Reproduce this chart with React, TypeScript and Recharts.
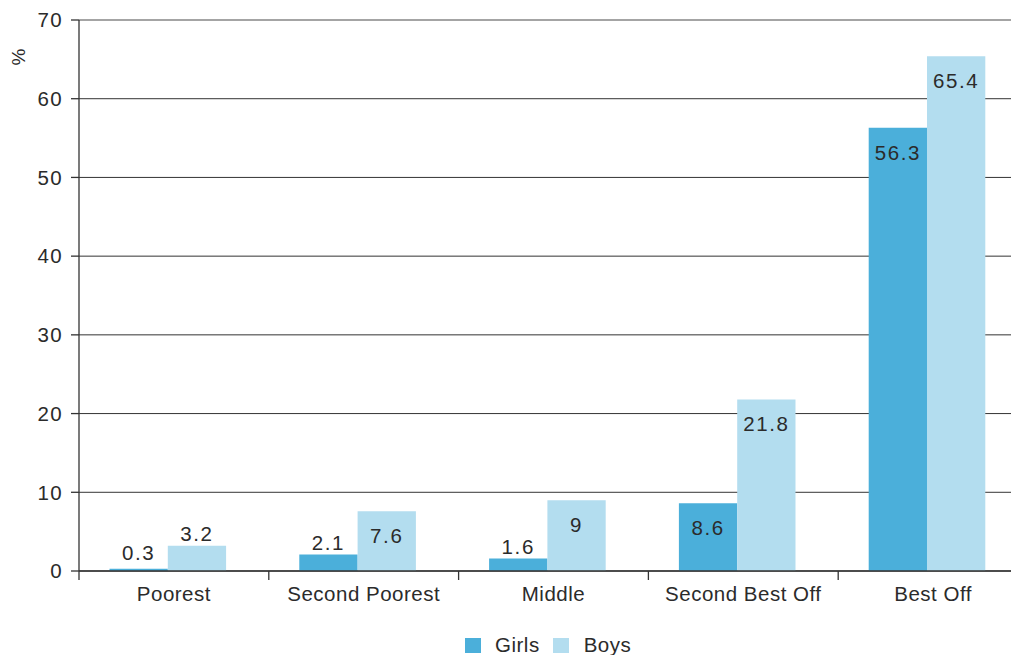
import React from "react";
import { BarChart, Bar, XAxis, YAxis, CartesianGrid, Legend, LabelList, ReferenceLine, Label } from "recharts";

const categories = ["Poorest", "Second Poorest", "Middle", "Second Best Off", "Best Off"];
const girls = [0.3, 2.1, 1.6, 8.6, 56.3];
const boys = [3.2, 7.6, 9, 21.8, 65.4];
const yTicks = [0, 10, 20, 30, 40, 50, 60, 70];

const data = categories.map((c, i) => ({ name: c, Girls: girls[i], Boys: boys[i] }));

const FONT = "'Liberation Sans', Arial, Helvetica, sans-serif";
const TEXT = "#2b2b2b";
const GIRLS_C = "#4BAFDA";
const BOYS_C = "#B3DDEF";
const SHIFT = 6.5;

const CatTick = (props: any) => {
  const { x, y, payload } = props;
  const half = payload && payload.offset ? payload.offset : 94.9;
  const bx = x + SHIFT - half;
  return (
    <g>
      <line x1={bx} x2={bx} y1={y} y2={y + 9} stroke="#333" strokeWidth={1.3} />
      <text x={x + SHIFT} y={y + 30} textAnchor="middle" fontSize={20.5} fill={TEXT} fontFamily={FONT} style={{ letterSpacing: "0.5px" }}>
        {payload.value}
      </text>
    </g>
  );
};

const renderValue = (props: any) => {
  const { x, y, width, height, value } = props;
  const inside = height > 40;
  const cy = inside ? y + 24.5 : Math.min(y - 12, 552);
  return (
    <text x={x + width / 2} y={cy} textAnchor="middle" dominantBaseline="central" fontSize={20.5} fill={TEXT} fontFamily={FONT} style={{ letterSpacing: "1.6px" }}>
      {value}
    </text>
  );
};

const LegendContent = () => (
  <div style={{ display: "flex", alignItems: "center", paddingLeft: 465, fontFamily: FONT, fontSize: 20.5, color: TEXT, letterSpacing: "0.5px", lineHeight: "22px" }}>
    <span style={{ width: 16, height: 15, background: GIRLS_C, display: "inline-block" }} />
    <span style={{ marginLeft: 14, marginRight: 13 }}>Girls</span>
    <span style={{ width: 16, height: 15, background: BOYS_C, display: "inline-block" }} />
    <span style={{ marginLeft: 15 }}>Boys</span>
  </div>
);

export default function App() {
  return (
    <div style={{ position: "absolute", left: 0, top: 0, width: 1011, height: 655, overflow: "hidden", background: "#fff" }}>
      <BarChart
        width={1040}
        height={680}
        data={data}
        margin={{ top: 20, right: 12, left: 0, bottom: 79 }}
        barGap={0}
        barSize={58.3}
      >
        <CartesianGrid vertical={false} stroke="#333" strokeWidth={1} />
        <ReferenceLine y={70} stroke="#a9a9a9" strokeWidth={1.5} />
        <XAxis
          dataKey="name"
          height={30}
          padding={{ left: -SHIFT, right: SHIFT }}
          tickSize={0}
          tickMargin={0}
          tickLine={false}
          axisLine={{ stroke: "#333", strokeWidth: 1.3 }}
          tick={<CatTick />}
          interval={0}
        />
        <YAxis
          width={79}
          domain={[0, 70]}
          ticks={yTicks}
          tickSize={8}
          tickMargin={8}
          axisLine={{ stroke: "#333", strokeWidth: 1.3 }}
          tickLine={{ stroke: "#333", strokeWidth: 1.3 }}
          tick={{ fontSize: 20.5, fill: TEXT, fontFamily: FONT, style: { letterSpacing: "1.4px" } } as any}
        >
          <Label
            content={() => (
              <text x={18} y={57} textAnchor="middle" dominantBaseline="central" transform="rotate(-90 18 57)" fontSize={19} fill={TEXT} fontFamily={FONT}>
                %
              </text>
            )}
          />
        </YAxis>
        <Legend
          verticalAlign="middle"
          layout="horizontal"
          content={<LegendContent />}
          wrapperStyle={{ position: "absolute", left: 0, top: 634, width: 1011 }}
        />
        <Bar dataKey="Girls" fill={GIRLS_C} isAnimationActive={false}>
          <LabelList dataKey="Girls" content={renderValue} />
        </Bar>
        <Bar dataKey="Boys" fill={BOYS_C} isAnimationActive={false}>
          <LabelList dataKey="Boys" content={renderValue} />
        </Bar>
      </BarChart>
    </div>
  );
}
